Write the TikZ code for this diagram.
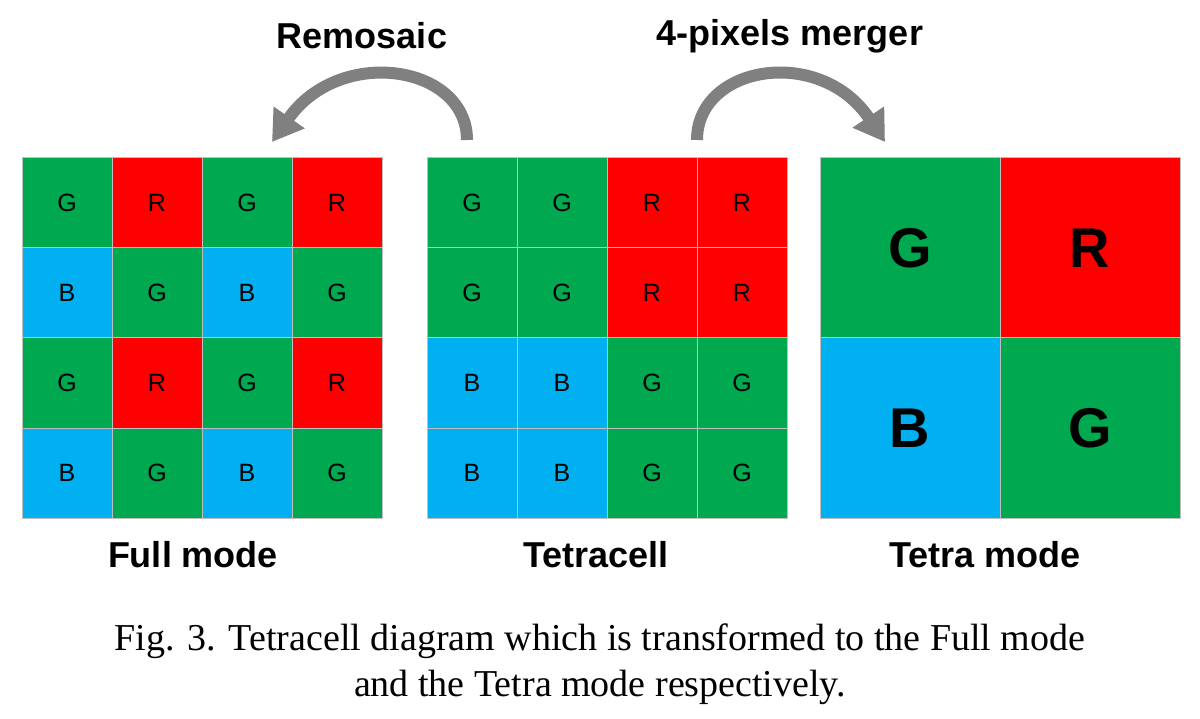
\documentclass[tikz,border=0pt]{standalone}
\usepackage{fontspec}
\setmainfont{Liberation Serif}
\newfontfamily\arialf{Liberation Sans}
\usetikzlibrary{arrows.meta}
\definecolor{gg}{RGB}{0,168,80}
\definecolor{rr}{RGB}{255,0,0}
\definecolor{bb}{RGB}{0,176,240}
\definecolor{ar}{RGB}{128,128,128}
\colorlet{cG}{gg}\colorlet{cR}{rr}\colorlet{cB}{bb}
\begin{document}
\begin{tikzpicture}[x=1pt,y=-1pt,
  cell/.style={draw=black!25,line width=1pt,minimum size=90pt,inner sep=0,outer sep=0,font=\arialf\fontsize{25}{25}\selectfont},
  big/.style={cell,minimum size=180pt,font=\arialf\bfseries\fontsize{56}{56}\selectfont},
  lab/.style={font=\arialf\bfseries\fontsize{36}{36}\selectfont},
  arr/.style={ar,line width=12pt,-{Triangle[width=36pt,length=30pt]}}]
\useasboundingbox[fill=white] (0,0) rectangle (1200,719);
\foreach \row [count=\j from 0] in {{G,R,G,R},{B,G,B,G},{G,R,G,R},{B,G,B,G}}{
  \foreach \c [count=\i from 0] in \row{
    \node[cell,fill=c\c] (L\i\j) at (67+90*\i,203+90*\j) {\c};
  }}
\foreach \row [count=\j from 0] in {{G,G,R,R},{G,G,R,R},{B,B,G,G},{B,B,G,G}}{
  \foreach \c [count=\i from 0] in \row{
    \node[cell,fill=c\c] (M\i\j) at (472+90*\i,203+90*\j) {\c};
  }}
\node[big,fill=gg] (R00) at (910,248) {G};
\node[big,fill=rr] (R10) at (1090,248) {R};
\node[big,fill=bb] (R01) at (910,428) {B};
\node[big,fill=gg] (R11) at (1090,428) {G};
\node[lab] (t1) at (362,36) {Remosaic};
\node[lab] (t2) at (790,36) {4-pixels merger};
\node[lab] (c1) at (193,555) {Full mode};
\node[lab] (c2) at (596,555) {Tetracell};
\node[lab] (c3) at (985,555) {Tetra mode};
\coordinate (a1) at (467,140); \coordinate (a2) at (272,142);
\coordinate (b1) at (697,140); \coordinate (b2) at (885,142);
\draw[arr] (a1) .. controls (467,65) and (340,45) .. (a2);
\draw[arr] (b1) .. controls (697,65) and (820,45) .. (b2);
\node[font=\fontsize{38}{46}\selectfont,align=center] (cap) at (600,664) {Fig. 3. Tetracell diagram which is transformed to the Full mode\\and the Tetra mode respectively.};
\end{tikzpicture}
\end{document}
